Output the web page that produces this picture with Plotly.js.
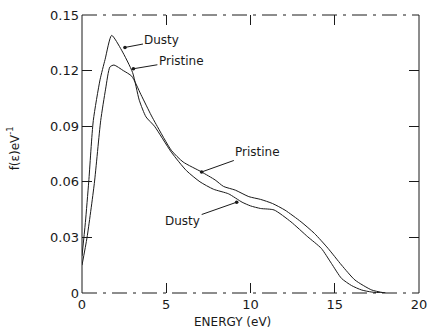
<!DOCTYPE html>
<html>
<head>
<meta charset="utf-8">
<script src="https://cdn.plot.ly/plotly-3.0.1.min.js"></script>
<style>html,body{margin:0;padding:0;background:#fff;}#chart{width:430px;height:335px;}</style>
</head>
<body>
<div id="chart"></div>
<script>
// Energy (eV) and distribution f(e) (eV^-1)
const dustyEnergy = [0, 0.2, 0.4, 0.67, 1.07, 1.37, 1.76, 2.35, 3.0, 3.4, 3.8, 4.3, 5.3, 6.2, 7.0, 7.8, 8.7, 9.5, 10.0, 10.6, 11.4, 12.4, 13.4, 14.2, 14.8, 15.4, 16.0, 16.6, 17.2, 18.0];
const dustyF      = [0.020, 0.038, 0.060, 0.093, 0.115, 0.126, 0.139, 0.131, 0.119, 0.104, 0.095, 0.090, 0.076, 0.066, 0.060, 0.056, 0.0535, 0.049, 0.047, 0.0456, 0.0448, 0.0384, 0.0303, 0.0241, 0.0160, 0.0079, 0.0040, 0.0016, 0.0005, 0];
const pristineEnergy = [0, 0.3, 0.73, 1.11, 1.4, 1.66, 1.9, 2.45, 2.95, 3.5, 4.1, 4.4, 5.3, 6.0, 7.1, 7.9, 8.4, 9.1, 9.9, 10.6, 11.3, 12.05, 13.0, 13.8, 14.6, 15.4, 16.2, 17.2, 18.0];
const pristineF      = [0.015, 0.030, 0.059, 0.093, 0.110, 0.122, 0.123, 0.120, 0.117, 0.107, 0.096, 0.091, 0.077, 0.0707, 0.0653, 0.061, 0.0575, 0.0555, 0.052, 0.0505, 0.0483, 0.0447, 0.0384, 0.0321, 0.0241, 0.0151, 0.0070, 0.0016, 0];
const xTicks = [0, 5, 10, 15, 20];
const xTickText = ['0', '5', '10', '15', '20'];
const yTicks = [0, 0.03, 0.06, 0.09, 0.12, 0.15];
const yTickText = ['0', '0.03', '0.06', '0.09', '0.12', '0.15'];
const labels = [
  {text: 'Dusty', x: 2.55, y: 0.1325, ax: 37, ay: -7},
  {text: 'Pristine', x: 3.05, y: 0.121, ax: 48, ay: -8},
  {text: 'Pristine', x: 7.1, y: 0.0653, ax: 56, ay: -20},
  {text: 'Dusty', x: 9.18, y: 0.049, ax: -54, ay: 19}
];

const ink = '#1a1a1a';
const font = {family: 'DejaVu Sans, sans-serif', size: 12, color: ink};

const traces = [
  {x: dustyEnergy, y: dustyF, mode: 'lines', name: 'Dusty',
   line: {color: ink, width: 1, shape: 'spline', smoothing: 0.6}},
  {x: pristineEnergy, y: pristineF, mode: 'lines', name: 'Pristine',
   line: {color: ink, width: 1, shape: 'spline', smoothing: 0.6}}
];

const annotations = labels.map(l => ({
  x: l.x, y: l.y, xref: 'x', yref: 'y', text: l.text, showarrow: true,
  ax: l.ax, ay: l.ay, arrowhead: 6, arrowsize: 0.9, arrowwidth: 1, arrowcolor: ink,
  font: font
}));
annotations.push({text: 'ENERGY (eV)', xref: 'paper', yref: 'paper', x: 0.448, y: -0.104,
  xanchor: 'center', yanchor: 'middle', showarrow: false, font: font});
annotations.push({text: 'f(ε)eV<sup>-1</sup>', xref: 'paper', yref: 'paper', x: -0.202, y: 0.52,
  xanchor: 'center', yanchor: 'middle', showarrow: false, textangle: -90, font: font});

const border = {color: ink, width: 1};
const shapes = [
  {type: 'line', xref: 'paper', yref: 'paper', x0: 0, x1: 1, y0: 1, y1: 1, line: Object.assign({dash: 'longdashdot'}, border)},
  {type: 'line', xref: 'paper', yref: 'paper', x0: 0, x1: 1, y0: 0, y1: 0, line: Object.assign({dash: 'longdashdot'}, border)},
  {type: 'line', xref: 'paper', yref: 'paper', x0: 0, x1: 0, y0: 0, y1: 1, line: border},
  {type: 'line', xref: 'paper', yref: 'paper', x0: 1, x1: 1, y0: 0, y1: 1, line: border}
];

const layout = {
  width: 430, height: 335,
  margin: {l: 82, r: 11, t: 15, b: 42},
  paper_bgcolor: '#fff', plot_bgcolor: '#fff',
  showlegend: false,
  font: font,
  xaxis: {range: [0, 20], tickvals: xTicks, ticktext: xTickText, ticks: 'inside', ticklen: 10,
    tickcolor: ink, tickwidth: 1, mirror: 'ticks', showline: false, showgrid: false, zeroline: false,
    ticklabelstandoff: 2,
    tickfont: {family: 'DejaVu Sans, sans-serif', size: 13, color: ink}},
  yaxis: {range: [0, 0.15], tickvals: yTicks, ticktext: yTickText, ticks: 'inside', ticklen: 10,
    tickcolor: ink, tickwidth: 1, mirror: 'ticks', showline: false, showgrid: false, zeroline: false,
    ticklabelstandoff: 2,
    tickfont: {family: 'DejaVu Sans, sans-serif', size: 13, color: ink}},
  annotations: annotations,
  shapes: shapes
};

Plotly.newPlot('chart', traces, layout, {displayModeBar: false, staticPlot: true});
</script>
</body>
</html>
